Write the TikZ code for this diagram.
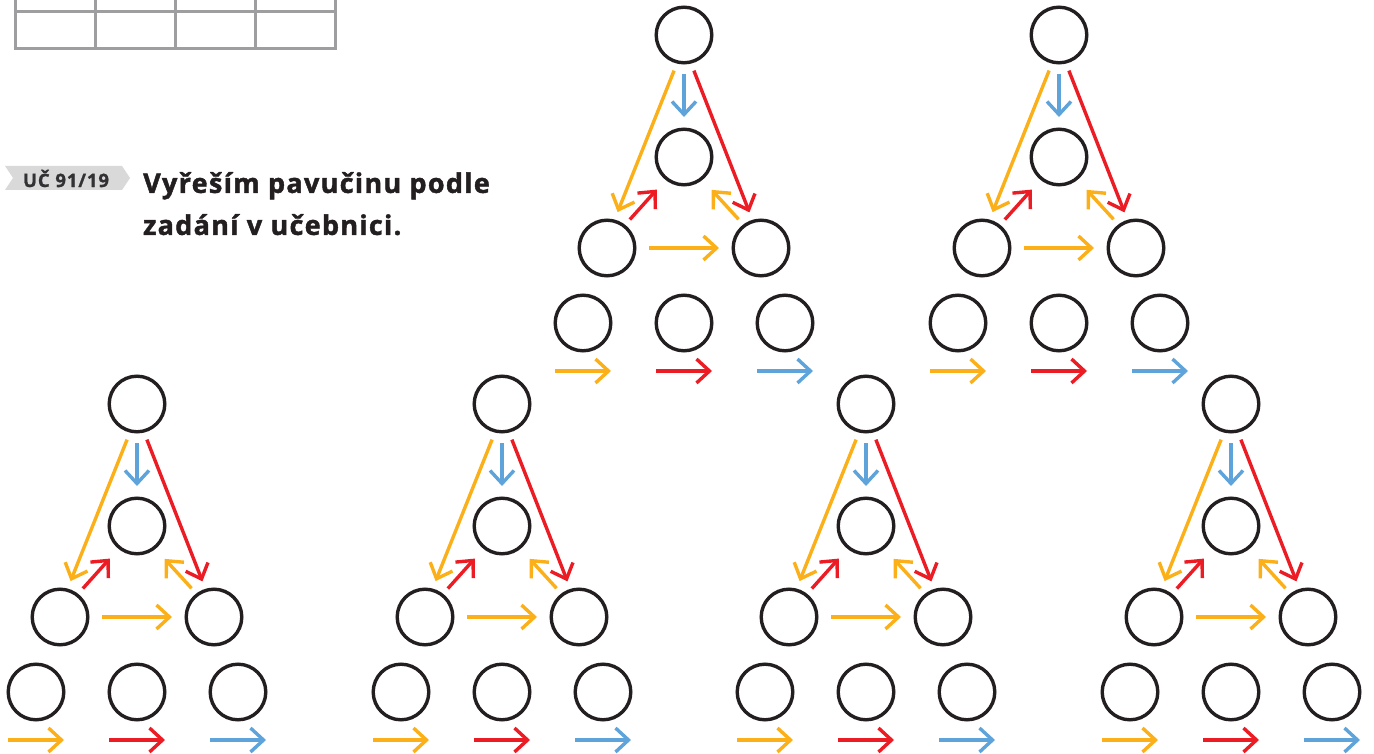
\documentclass[tikz,border=0pt]{standalone}
\usepackage{fontspec}
\setmainfont{Open Sans}
\newfontfamily\headfont{Open Sans}[LetterSpace=4.8, FakeBold=1.6]
\newfontfamily\tagfont{Open Sans}[LetterSpace=5, FakeBold=1.2]
\usepackage{xcolor}
\usetikzlibrary{arrows.meta,positioning}

\definecolor{webyellow}{HTML}{FBB01A}
\definecolor{webred}{HTML}{EC1C24}
\definecolor{webblue}{HTML}{5EA3D9}
\definecolor{inkblack}{HTML}{231F20}
\definecolor{gridgrey}{HTML}{9E9EA1}
\definecolor{taggrey}{HTML}{D9D9DA}
\definecolor{tagtext}{HTML}{333133}

\begin{document}
\begin{tikzpicture}[
  x=1pt, y=-1pt,
  ring/.style={circle, draw=inkblack, line width=3.4pt, minimum size=55.6pt, inner sep=0pt},
  link/.style={-{Straight Barb[length=13pt,width=24pt]}, line width=3.4pt},
  grid line/.style={draw=gridgrey, line width=3pt}
]
\useasboundingbox (0,0) rectangle (1374,754);

% table remnant
\foreach \gx in {15,95,175,255,335}
  \draw[grid line] (\gx,0) -- (\gx,49);
\draw[grid line] (13.5,11.7) -- (336.5,11.7);
\draw[grid line] (13.5,49) -- (336.5,49);

% task label
\fill[taggrey] (5,166) -- (122,166) -- (130,178) -- (122,190) -- (5,190) -- (13,178) -- cycle;
\node[font=\tagfont\bfseries\fontsize{18.5}{20}\selectfont, text=tagtext, inner sep=0pt] (tag) at (66,178.5) {UČ 91/19};
\node[font=\headfont\bfseries\fontsize{27}{42}\selectfont, text=inkblack, align=left, anchor=north west, inner sep=0pt]
  (title) at (143,172) {Vyřeším pavučinu podle\\zadání v učebnici.};

% webs
\foreach \wx/\wy/\w in {684/35/1, 1059/35/2, 137/404/3, 502/404/4, 866/404/5, 1231/404/6} {
  \node[ring] (t\w) at (\wx,\wy) {};
  \node[ring, below=63pt of t\w] (m\w) {};
  \node[ring] (l\w) at ([shift={(-77,91)}]m\w) {};
  \node[ring] (r\w) at ([shift={(77,91)}]m\w) {};
  \node[ring, below=107pt of m\w] (bm\w) {};
  \node[ring, left=42pt of bm\w] (bl\w) {};
  \node[ring, right=42pt of bm\w] (br\w) {};

  \draw[link, webblue, shorten <=9.5pt, shorten >=10.5pt] (t\w.south) -- (m\w.north);
  \draw[link, webyellow, shorten <=7.5pt, shorten >=8pt] (t\w.-104) -- (l\w.75);
  \draw[link, webred, shorten <=7.5pt, shorten >=8pt] (t\w.-76) -- (r\w.107);
  \draw[link, webred, shorten <=7pt, shorten >=13pt] (l\w.52) -- (m\w.231);
  \draw[link, webyellow, shorten <=7pt, shorten >=13.5pt] (r\w.127.5) -- (m\w.-51.3);
  \draw[link, webyellow, shorten <=12.5pt, shorten >=12.5pt] (l\w.east) -- (r\w.west);

  % key arrows under the bottom row
  \coordinate (ya\w) at ([shift={(-28,48)}]bl\w);
  \coordinate (yb\w) at ([shift={(28,48)}]bl\w);
  \coordinate (ra\w) at ([shift={(-28,48)}]bm\w);
  \coordinate (rb\w) at ([shift={(28,48)}]bm\w);
  \coordinate (ba\w) at ([shift={(-28,48)}]br\w);
  \coordinate (bb\w) at ([shift={(28,48)}]br\w);
  \draw[link, webyellow] (ya\w) -- (yb\w);
  \draw[link, webred] (ra\w) -- (rb\w);
  \draw[link, webblue] (ba\w) -- (bb\w);
}

\end{tikzpicture}
\end{document}
